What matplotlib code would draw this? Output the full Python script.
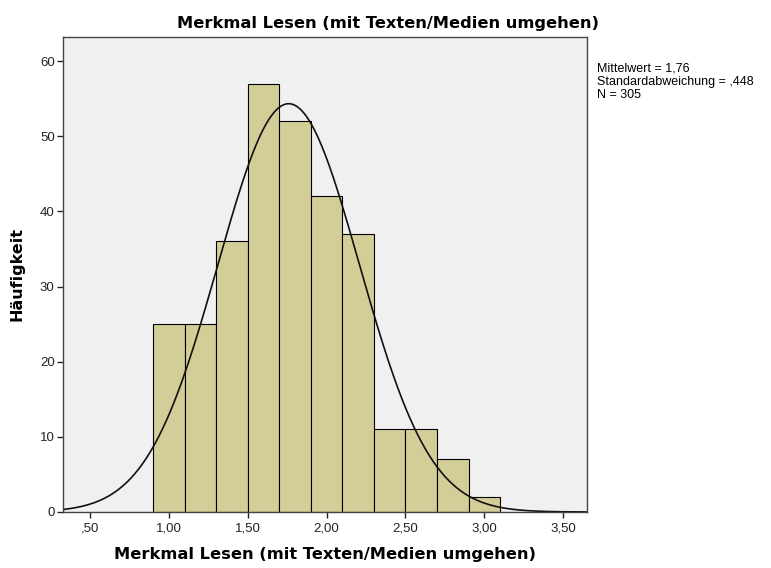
import matplotlib.pyplot as plt
import numpy as np

bin_edges = [0.9, 1.1, 1.3, 1.5, 1.7, 1.9, 2.1, 2.3, 2.5, 2.7, 2.9, 3.1]
counts = [25, 25, 36, 57, 52, 42, 37, 11, 11, 7, 2]
mean = 1.76
sd = 0.448
n = 305

x_ticks = [0.5, 1.0, 1.5, 2.0, 2.5, 3.0, 3.5]
x_labels = [",50", "1,00", "1,50", "2,00", "2,50", "3,00", "3,50"]
y_ticks = [0, 10, 20, 30, 40, 50, 60]

title = "Merkmal Lesen (mit Texten/Medien umgehen)"

plt.rcParams["font.family"] = ["Liberation Sans", "DejaVu Sans"]


def main():
    fig = plt.figure(figsize=(7.71, 5.68), dpi=100)
    ax = fig.add_axes([0.0817, 0.0986, 0.6796, 0.8363])
    ax.set_facecolor("#f0f0f0")

    widths = np.diff(bin_edges)
    ax.bar(bin_edges[:-1], counts, width=widths, align="edge",
           color="#d3ce98", edgecolor="black", linewidth=0.8)

    # normal curve scaled to counts
    xs = np.linspace(0.33, 3.65, 400)
    bw = widths[0]
    ys = n * bw / (sd * np.sqrt(2 * np.pi)) * np.exp(-0.5 * ((xs - mean) / sd) ** 2)
    ax.plot(xs, ys, color="#111111", linewidth=1.2)

    ax.set_xlim(0.33, 3.65)
    ax.set_ylim(0, 63.2)
    ax.set_xticks(x_ticks)
    ax.set_xticklabels(x_labels)
    ax.set_yticks(y_ticks)
    ax.tick_params(direction="out", length=4, width=1, labelsize=9.5, colors="#222222")
    ax.tick_params(axis="y", length=4.5, pad=1.5)
    for s in ax.spines.values():
        s.set_color("#444444")
        s.set_linewidth(1.0)

    bold = dict(fontsize=11.7, fontweight="bold", family=["DejaVu Sans"])
    fig.text(0.503, 1 - 28 / 568, title, ha="center", va="baseline", **bold)
    ax.set_xlabel(title, labelpad=9, **bold)
    ax.set_ylabel("Häufigkeit", labelpad=11, fontsize=11.5, fontweight="bold",
                  family=["DejaVu Sans"])

    fig.text(0.774, 0.89,
             "Mittelwert = 1,76\nStandardabweichung = ,448\nN = 305",
             fontsize=9, va="top", ha="left", linespacing=1.15)

    fig.savefig("out.png", dpi=100, facecolor="white")


if __name__ == "__main__":
    main()
